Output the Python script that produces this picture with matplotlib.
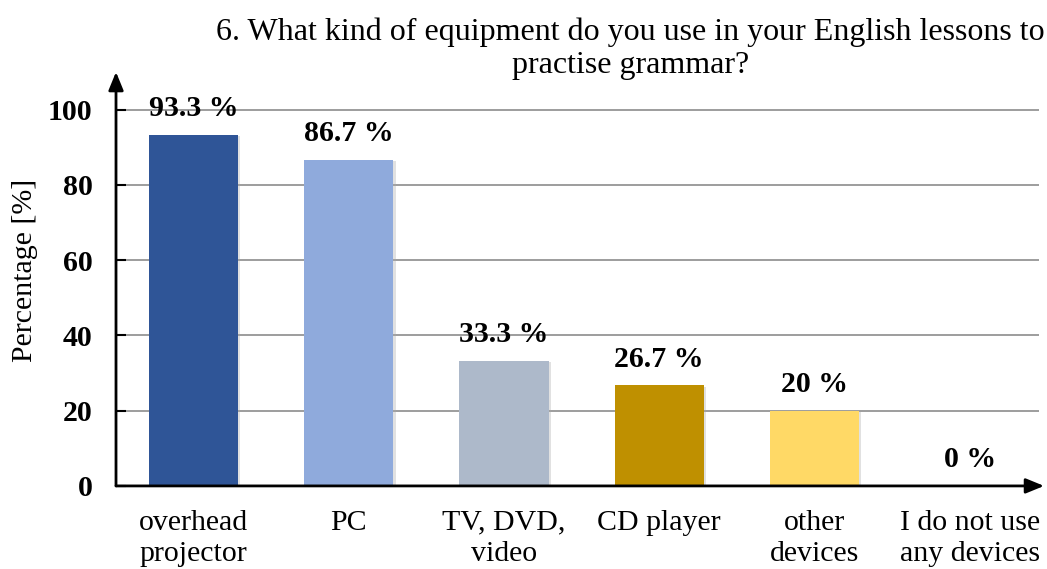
import numpy as np
import matplotlib.pyplot as plt
import matplotlib.patheffects as pe

# data
categories = ["overhead\nprojector", "PC", "TV, DVD,\nvideo", "CD player",
              "other\ndevices", "I do not use\nany devices"]
values = [93.3, 86.7, 33.3, 26.7, 20, 0]
value_labels = ["93.3 %", "86.7 %", "33.3 %", "26.7 %", "20 %", "0 %"]
colors = ["#2F5597", "#8FAADC", "#ADB9CA", "#BF9000", "#FFD966", "#FFFFFF"]
yticks = [0, 20, 40, 60, 80, 100]

plt.rcParams["font.family"] = ["Liberation Serif", "DejaVu Serif"]

fig = plt.figure(figsize=(10.47, 5.69), dpi=100)
ax = fig.add_axes([0.1108, 0.146, 0.882, 0.7275])

x = np.arange(len(categories))
bars = ax.bar(x, values, width=0.575, color=colors, zorder=3,
              path_effects=[pe.SimplePatchShadow(offset=(1.5, -1), shadow_rgbFace="#aaaaaa", alpha=0.35),
                            pe.Normal()])

for xi, v, lab in zip(x, values, value_labels):
    ax.annotate(lab, (xi, v), xytext=(0, 9), textcoords="offset points",
                ha="center", va="bottom", fontsize=21.5, fontweight="bold")

ax.set_xlim(-0.5, 5.45)
ax.set_ylim(0, 110)
ax.set_yticks(yticks)
ax.set_yticklabels([str(t) for t in yticks], fontsize=21.5, fontweight="bold")
ax.set_xticks(x)
ax.set_xticklabels(categories, fontsize=21.5, linespacing=1.25)
ax.tick_params(axis="y", direction="in", length=7, width=1.5, pad=17)
ax.tick_params(axis="x", length=0, pad=17)

for t in yticks[1:]:
    ax.axhline(t, color="#8c8c8c", lw=1.2, zorder=1)

for s in ax.spines.values():
    s.set_visible(False)

# axis arrows
arrow = dict(arrowstyle="-|>,head_length=1.1,head_width=0.45", color="black", lw=2,
             shrinkA=0, shrinkB=0)
ax.annotate("", xy=(1.005, 0), xycoords="axes fraction", xytext=(0, 0), arrowprops=arrow)
ax.annotate("", xy=(0, 1.0), xycoords="axes fraction", xytext=(0, 0), arrowprops=arrow)

ax.set_ylabel("Percentage [%]", fontsize=21.5)
ax.yaxis.set_label_coords(-0.085, 0.52)

fig.text(0.602, 0.914, "6. What kind of equipment do you use in your English lessons to\npractise grammar?",
         ha="center", va="center", fontsize=23, linespacing=1.2)

fig.savefig("out.png", dpi=100)
